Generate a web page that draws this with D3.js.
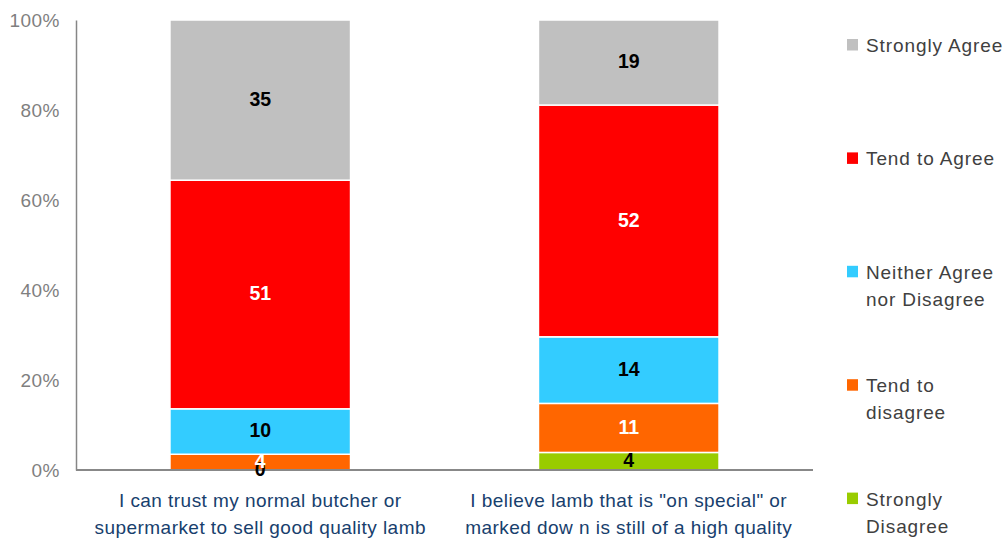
<!DOCTYPE html>
<html>
<head>
<meta charset="utf-8">
<script src="https://cdn.jsdelivr.net/npm/d3@7"></script>
<style>
  html, body { margin: 0; padding: 0; background: #fff; }
  svg { display: block; font-family: "Liberation Sans", Arial, sans-serif; }
</style>
</head>
<body>
<svg id="chart" width="1006" height="543"></svg>
<script>
// ---- data ----
const categories = [
  "I can trust my normal butcher or\nsupermarket to sell good quality lamb",
  "I believe lamb that is \"on special\" or\nmarked dow n is still of a high quality"
];
const seriesNames = ["Strongly Disagree", "Tend to disagree", "Neither Agree nor Disagree", "Tend to Agree", "Strongly Agree"];
const legendLines = [["Strongly", "Disagree"], ["Tend to", "disagree"], ["Neither Agree", "nor Disagree"], ["Tend to Agree"], ["Strongly Agree"]];
const seriesColors = ["#99CC00", "#FF6600", "#33CCFF", "#FF0000", "#C0C0C0"];
const labelColors = ["#000000", "#FFFFFF", "#000000", "#FFFFFF", "#000000"];
// share of respondents (%) per series, one value per category
const stronglyDisagree = [0, 3.9];
const tendToDisagree   = [3.5, 10.9];
const neither          = [10.1, 14.8];
const tendToAgree      = [50.8, 51.5];
const stronglyAgree    = [35.6, 18.9];
// printed data labels
const labelsStronglyDisagree = ["0", "4"];
const labelsTendToDisagree   = ["4", "11"];
const labelsNeither          = ["10", "14"];
const labelsTendToAgree      = ["51", "52"];
const labelsStronglyAgree    = ["35", "19"];
const yTicks = [0, 20, 40, 60, 80, 100];

// ---- build ----
const seriesValues = [stronglyDisagree, tendToDisagree, neither, tendToAgree, stronglyAgree];
const seriesLabels = [labelsStronglyDisagree, labelsTendToDisagree, labelsNeither, labelsTendToAgree, labelsStronglyAgree];
const table = categories.map((c, i) => {
  const row = { cat: c };
  seriesNames.forEach((s, j) => row[s] = seriesValues[j][i]);
  return row;
});
const stacked = d3.stack().keys(seriesNames)(table);

const svg = d3.select("#chart");
const x = d3.scaleBand().domain(categories).range([76, 813]).paddingInner(0.51).paddingOuter(0.255);
const y = d3.scaleLinear().domain([0, 100]).range([470, 20]);

// bars
const layers = svg.append("g").selectAll("g").data(stacked).join("g")
  .attr("fill", (d, i) => seriesColors[i]);
layers.selectAll("rect").data(d => d).join("rect")
  .attr("x", d => x(d.data.cat))
  .attr("width", x.bandwidth())
  .attr("y", d => y(d[1]))
  .attr("height", d => Math.max(0, y(d[0]) - y(d[1])))
  .attr("stroke", "#fff")
  .attr("stroke-width", 1.5);

// y axis
const yAxis = svg.append("g").attr("transform", "translate(76,0)")
  .call(d3.axisLeft(y).tickValues(yTicks).tickSize(0).tickPadding(16).tickFormat(d => d + "%"));
yAxis.select(".domain").attr("stroke", "#868686").attr("stroke-width", 1.5);
yAxis.selectAll("text").attr("fill", "#7f7f7f").style("font-size", "19px")
  .style("letter-spacing", "0.5px").style("font-family", "'Liberation Sans', Arial, sans-serif");

// baseline
svg.append("line").attr("x1", 76).attr("x2", 813).attr("y1", y(0)).attr("y2", y(0))
  .attr("stroke", "#888888").attr("stroke-width", 2);

// data labels
stacked.forEach((layer, j) => {
  svg.append("g").selectAll("text").data(layer).join("text")
    .attr("x", d => x(d.data.cat) + x.bandwidth() / 2)
    .attr("y", d => (y(d[0]) + y(d[1])) / 2)
    .attr("dy", "0.3em")
    .attr("text-anchor", "middle")
    .attr("fill", labelColors[j])
    .style("font-size", "19.5px").style("font-weight", "bold")
    .text((d, i) => seriesLabels[j][i]);
});

// category labels
const catG = svg.append("g");
categories.forEach(c => {
  const lines = c.split("\n");
  const t = catG.append("text")
    .attr("text-anchor", "middle")
    .attr("fill", "#17406D")
    .style("font-size", "19px").style("letter-spacing", "0.45px");
  lines.forEach((ln, k) => {
    t.append("tspan").attr("x", x(c) + x.bandwidth() / 2).attr("y", 506.5 + k * 27.7).text(ln);
  });
});

// legend (top to bottom: Strongly Agree ... Strongly Disagree)
const legendOrder = d3.range(seriesNames.length).reverse();
const lg = svg.append("g");
legendOrder.forEach((j, k) => {
  const top = 39 + k * 113.4;
  lg.append("rect").attr("x", 847).attr("y", top).attr("width", 11).attr("height", 11.5)
    .attr("fill", seriesColors[j]);
  const t = lg.append("text").attr("fill", "#404040")
    .style("font-size", "19px").style("letter-spacing", "0.9px");
  legendLines[j].forEach((ln, m) => {
    t.append("tspan").attr("x", 866).attr("y", top + 13 + m * 27).text(ln);
  });
});
</script>
</body>
</html>
